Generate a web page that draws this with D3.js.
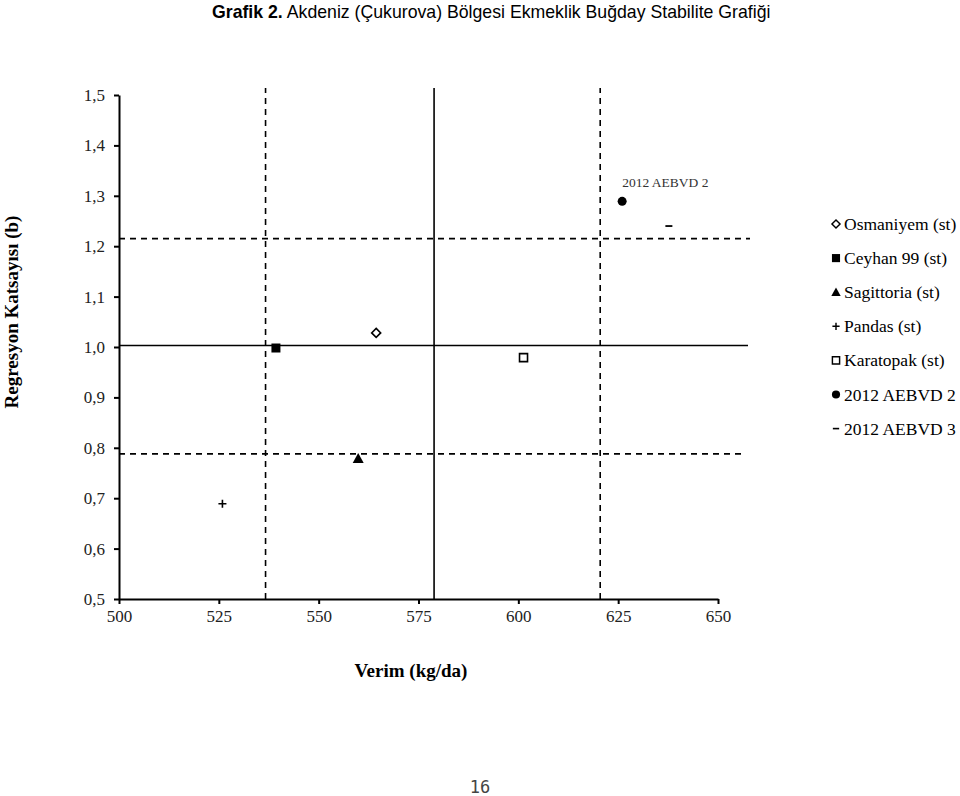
<!DOCTYPE html>
<html><head><meta charset="utf-8">
<script src="https://cdn.jsdelivr.net/npm/d3@7"></script>
<style>body{margin:0;background:#fff}svg{display:block}</style>
</head><body>
<script>
const genotypes = ["Osmaniyem (st)","Ceyhan 99 (st)","Sagittoria (st)","Pandas (st)","Karatopak (st)","2012 AEBVD 2","2012 AEBVD 3"];
const yields = [564.4, 539.3, 559.9, 525.9, 601.3, 626.0, 637.7];
const bValues = [1.028, 0.998, 0.779, 0.689, 0.979, 1.289, 1.240];
const markers = ["diamondOpen","squareFilled","triangle","plus","squareOpen","circle","dash"];
const xTicks = [500,525,550,575,600,625,650];
const yTicks = [0.5,0.6,0.7,0.8,0.9,1.0,1.1,1.2,1.3,1.4,1.5];
const meanYield = 578.9, meanB = 1.003;
const yieldLow = 536.7, yieldHigh = 620.5;
const bLow = 0.788, bHigh = 1.215;
const pointLabel = "2012 AEBVD 2";

const W=960,H=796;
const svg=d3.select("body").append("svg").attr("width",W).attr("height",H);
const x=d3.scaleLinear().domain([500,650]).range([119,718]);
const y=d3.scaleLinear().domain([0.5,1.5]).range([599,95]);
const serif="Liberation Serif, Times New Roman, serif";

// title
const t=svg.append("text").attr("x",212).attr("y",18).attr("font-family","Liberation Sans, Arial, sans-serif").attr("font-size",17.7).attr("fill","#000");
t.append("tspan").attr("font-weight","bold").text("Grafik 2.");
t.append("tspan").text(" Akdeniz (Çukurova) Bölgesi Ekmeklik Buğday Stabilite Grafiği");

// reference lines
const xEnd=x.invert(748), yTop=y.invert(88);
const refs=[
 {x1:500,x2:xEnd,y1:meanB,y2:meanB,dash:null},
 {x1:meanYield,x2:meanYield,y1:0.5,y2:yTop,dash:null},
 {x1:500,x2:x.invert(750),y1:bHigh,y2:bHigh,dash:"6,5"},
 {x1:500,x2:x.invert(742),y1:bLow,y2:bLow,dash:"6,5"},
 {x1:yieldLow,x2:yieldLow,y1:0.5,y2:yTop,dash:"6,5"},
 {x1:yieldHigh,x2:yieldHigh,y1:0.5,y2:yTop,dash:"6,5"}
];
svg.append("g").selectAll("line").data(refs).join("line")
 .attr("x1",d=>x(d.x1)).attr("x2",d=>x(d.x2)).attr("y1",d=>y(d.y1)).attr("y2",d=>y(d.y2))
 .attr("stroke","#000").attr("stroke-width",1.6).attr("stroke-dasharray",d=>d.dash);

// axes
const fmt=d=>d3.format(".1f")(d).replace(".",",");
const gx=svg.append("g").attr("transform","translate(0,599)")
 .call(d3.axisBottom(x).tickValues(xTicks).tickSize(5).tickPadding(6).tickSizeOuter(0));
const gy=svg.append("g").attr("transform","translate(119,0)")
 .call(d3.axisLeft(y).tickValues(yTicks).tickFormat(fmt).tickSize(5).tickPadding(9).tickSizeOuter(0));
[gx,gy].forEach(g=>{
 g.attr("font-family",serif).attr("font-size",17);
 g.select(".domain").attr("stroke","#000").attr("stroke-width",2);
 g.selectAll(".tick line").attr("stroke","#000").attr("stroke-width",2);
 g.selectAll("text").attr("font-family",serif).attr("font-size",17).attr("fill","#222");
});

// axis titles
svg.append("text").attr("x",411).attr("y",677).attr("text-anchor","middle")
 .attr("font-family",serif).attr("font-weight","bold").attr("font-size",19).text("Verim (kg/da)");
svg.append("text").attr("transform","translate(18,312) rotate(-90)").attr("text-anchor","middle")
 .attr("font-family",serif).attr("font-weight","bold").attr("font-size",19).text("Regresyon Katsayısı (b)");

// marker drawing
function drawMarker(sel,type){
 if(type==="diamondOpen") sel.append("path").attr("d","M0,-4.5L4.5,0L0,4.5L-4.5,0Z").attr("fill","#fff").attr("stroke","#000").attr("stroke-width",1.6);
 else if(type==="squareFilled") sel.append("path").attr("d",d3.symbol(d3.symbolSquare,81)()).attr("fill","#000");
 else if(type==="squareOpen") sel.append("path").attr("d","M-4,-4H4V4H-4Z").attr("fill","#fff").attr("stroke","#000").attr("stroke-width",1.6);
 else if(type==="triangle") sel.append("path").attr("d","M0,-5.5L5.5,4.5L-5.5,4.5Z").attr("fill","#000");
 else if(type==="plus") sel.append("path").attr("d","M-4,0H4M0,-4V4").attr("stroke","#000").attr("stroke-width",1.6);
 else if(type==="circle") sel.append("path").attr("d",d3.symbol(d3.symbolCircle,64)()).attr("fill","#000");
 else if(type==="dash") sel.append("path").attr("d","M-3.5,0H3.5").attr("stroke","#000").attr("stroke-width",1.8);
}
const pts=genotypes.map((g,i)=>({g,yv:yields[i],b:bValues[i],m:markers[i]}));
svg.append("g").selectAll("g").data(pts).join("g")
 .attr("transform",d=>`translate(${x(d.yv)},${y(d.b)})`)
 .each(function(d){drawMarker(d3.select(this),d.m);});

// point label
const lp=pts.find(p=>p.g===pointLabel);
svg.append("text").attr("x",x(lp.yv)).attr("y",y(lp.b)-14).attr("font-family",serif)
 .attr("font-size",13.5).attr("fill","#333").text(pointLabel);

// legend
const lg=svg.append("g").selectAll("g").data(pts).join("g")
 .attr("transform",(d,i)=>`translate(836,${224+i*34.1})`);
lg.each(function(d){
 const s=d3.select(this).append("g").attr("transform",d.m==="triangle"?"scale(0.85)":"scale(0.9)");
 drawMarker(s,d.m);
});
lg.append("text").attr("x",8).attr("y",6).attr("font-family",serif).attr("font-size",17.5).attr("fill","#000").text(d=>d.g);

// page number
svg.append("text").attr("x",480).attr("y",793).attr("text-anchor","middle")
 .attr("font-family","DejaVu Sans Mono, monospace").attr("font-size",17).attr("fill","#444").text("16");
</script>
</body></html>
